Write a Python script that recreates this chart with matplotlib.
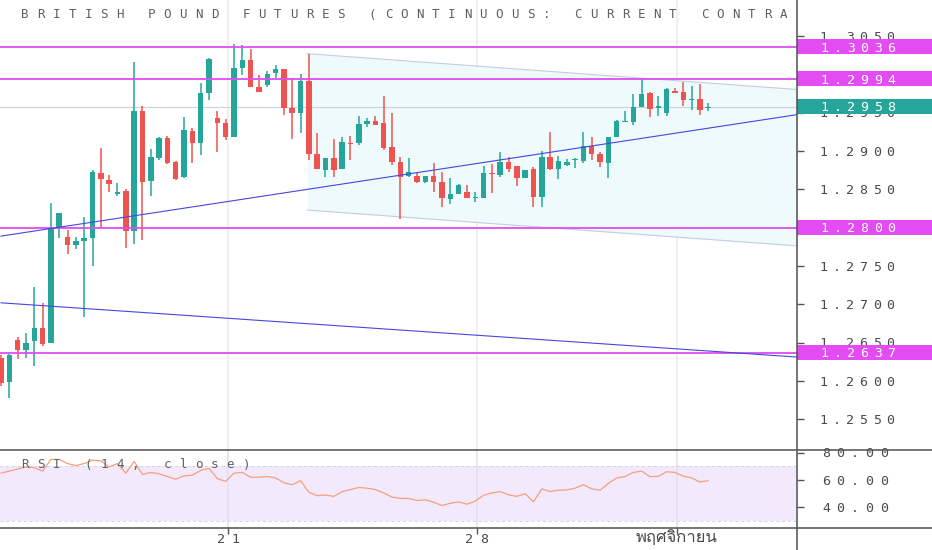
import numpy as np
import matplotlib
matplotlib.use('Agg')
from matplotlib import pyplot as plt
from matplotlib import font_manager
from matplotlib.ft2font import FT2Font
from matplotlib.transforms import IdentityTransform
from matplotlib.patches import Rectangle
from matplotlib.lines import Line2D

# 4h candles
opens = [1.2630, 1.2599, 1.2653, 1.2640, 1.2652, 1.2669, 1.2650, 1.2801, 1.2788, 1.2777,
         1.2783, 1.2787, 1.2871, 1.2862, 1.2844, 1.2848, 1.2796, 1.2952, 1.2861, 1.2891,
         1.2917, 1.2886, 1.2866, 1.2926, 1.2910, 1.2976, 1.2943, 1.2937, 1.2918, 1.3008,
         1.3019, 1.2983, 1.2986, 1.3002, 1.3007, 1.2956, 1.2950, 1.2991, 1.2896, 1.2875,
         1.2891, 1.2877, 1.2910, 1.2910, 1.2935, 1.2939, 1.2937, 1.2905, 1.2886, 1.2867,
         1.2867, 1.2860, 1.2867, 1.2860, 1.2837, 1.2844, 1.2847, 1.2839, 1.2839, 1.2871,
         1.2869, 1.2886, 1.2880, 1.2865, 1.2877, 1.2840, 1.2892, 1.2877, 1.2882, 1.2888,
         1.2887, 1.2907, 1.2896, 1.2884, 1.2918, 1.2938, 1.2938, 1.2957, 1.2976, 1.2956,
         1.2950, 1.2978, 1.2977, 1.2967, 1.2968, 1.2956]
highs = [1.2634, 1.2635, 1.2657, 1.2663, 1.2723, 1.2702, 1.2832, 1.2819, 1.2797, 1.2788,
         1.2814, 1.2875, 1.2904, 1.2869, 1.2858, 1.2850, 1.3016, 1.2959, 1.2903, 1.2918,
         1.2920, 1.2887, 1.2944, 1.2930, 1.2989, 1.3021, 1.2952, 1.2942, 1.3040, 1.3038,
         1.3033, 1.2999, 1.3004, 1.3012, 1.3007, 1.2995, 1.3000, 1.3027, 1.2923, 1.2891,
         1.2916, 1.2918, 1.2920, 1.2946, 1.2943, 1.2946, 1.2972, 1.2950, 1.2892, 1.2891,
         1.2871, 1.2867, 1.2884, 1.2873, 1.2865, 1.2857, 1.2856, 1.2847, 1.2880, 1.2883,
         1.2899, 1.2892, 1.2880, 1.2875, 1.2879, 1.2900, 1.2925, 1.2893, 1.2890, 1.2891,
         1.2925, 1.2918, 1.2899, 1.2918, 1.2940, 1.2952, 1.2974, 1.2995, 1.2977, 1.2972,
         1.2982, 1.2982, 1.2990, 1.2985, 1.2987, 1.2963]
lows = [1.2594, 1.2578, 1.2629, 1.2630, 1.2620, 1.2646, 1.2650, 1.2787, 1.2766, 1.2772,
        1.2683, 1.2750, 1.2800, 1.2847, 1.2841, 1.2773, 1.2779, 1.2784, 1.2841, 1.2888,
        1.2883, 1.2862, 1.2865, 1.2884, 1.2895, 1.2967, 1.2899, 1.2914, 1.2918, 1.2999,
        1.2983, 1.2977, 1.2983, 1.2995, 1.2947, 1.2916, 1.2923, 1.2888, 1.2877, 1.2866,
        1.2866, 1.2877, 1.2888, 1.2908, 1.2931, 1.2934, 1.2901, 1.2882, 1.2811, 1.2866,
        1.2858, 1.2858, 1.2847, 1.2827, 1.2831, 1.2844, 1.2839, 1.2833, 1.2839, 1.2845,
        1.2866, 1.2873, 1.2854, 1.2865, 1.2827, 1.2827, 1.2875, 1.2863, 1.2880, 1.2878,
        1.2884, 1.2888, 1.2879, 1.2865, 1.2918, 1.2938, 1.2934, 1.2957, 1.2944, 1.2946,
        1.2946, 1.2976, 1.2959, 1.2953, 1.2947, 1.2952]
closes = [1.2598, 1.2634, 1.2640, 1.2650, 1.2669, 1.2648, 1.2801, 1.2819, 1.2777, 1.2783,
          1.2787, 1.2873, 1.2863, 1.2857, 1.2847, 1.2796, 1.2952, 1.2860, 1.2892, 1.2917,
          1.2884, 1.2863, 1.2927, 1.2910, 1.2976, 1.3020, 1.2937, 1.2918, 1.3008, 1.3019,
          1.2983, 1.2977, 1.3000, 1.3007, 1.2956, 1.2950, 1.2991, 1.2896, 1.2877, 1.2891,
          1.2875, 1.2912, 1.2909, 1.2935, 1.2939, 1.2934, 1.2904, 1.2886, 1.2866, 1.2873,
          1.2860, 1.2867, 1.2860, 1.2839, 1.2844, 1.2856, 1.2839, 1.2840, 1.2871, 1.2870,
          1.2886, 1.2877, 1.2865, 1.2875, 1.2840, 1.2892, 1.2877, 1.2887, 1.2886, 1.2890,
          1.2907, 1.2896, 1.2886, 1.2918, 1.2939, 1.2939, 1.2957, 1.2974, 1.2955, 1.2959,
          1.2981, 1.2976, 1.2967, 1.2968, 1.2953, 1.2958]
rsi = [65.0, 66.5, 68.0, 69.5, 69.0, 66.5, 75.0, 75.0, 72.0, 70.5,
       72.0, 74.5, 74.0, 69.5, 72.0, 65.0, 73.5, 64.0, 65.5, 64.5,
       62.5, 60.5, 63.0, 63.5, 67.0, 68.5, 61.0, 59.0, 65.0, 65.5,
       62.0, 62.0, 62.5, 61.5, 58.0, 56.5, 59.5, 51.0, 48.5, 49.0,
       48.0, 51.5, 53.0, 54.5, 54.0, 53.0, 50.5, 47.5, 46.5, 46.5,
       45.0, 45.5, 43.8, 41.3, 43.0, 44.0, 42.3, 44.5, 48.8, 50.5,
       51.5, 49.2, 48.0, 50.0, 44.0, 53.5, 51.5, 52.5, 52.7, 54.0,
       56.5, 53.5, 52.5, 57.5, 61.4, 62.5, 65.5, 66.5, 62.4, 62.6,
       66.0, 65.5, 62.8, 61.5, 58.5, 59.5]

levels = [1.3036, 1.2994, 1.2800, 1.2637]
price_ticks = [1.2550, 1.2600, 1.2650, 1.2700, 1.2750, 1.2800, 1.2850,
               1.2900, 1.2950, 1.3000, 1.3050]
rsi_ticks = [40, 60, 80]
date_ticks = [27.3, 57.2, 81.25]
date_labels = ['21', '28', 'พฤศจิกายน']

# drawings (candle index, price)
trend_x = [0, 96]
trend_up = [1.2789, 1.2948]
trend_down = [1.2702, 1.2631]
chan_x = [36.8, 96]
chan_top = [1.3027, 1.2980]
chan_bot = [1.2823, 1.2776]

# the part of the title that shows left of the price scale
title = 'BRITISH POUND FUTURES (CONTINUOUS: CURRENT CONTRA'

GREEN = '#26a69a'
RED = '#ef5350'
MAG = '#e24cf2'
BLUE = '#4646e0'
W, H = 932, 550


def font_with(ch):
	for f in font_manager.fontManager.ttflist:
		try:
			if ord(ch) in FT2Font(f.fname).get_charmap():
				return f.name
		except Exception:
			continue
	return 'DejaVu Sans'


fig = plt.figure(figsize=(W / 100, H / 100), dpi=100)
ax = fig.add_axes([0, 100 / H, 797 / W, 450 / H])
ax2 = fig.add_axes([0, 22 / H, 797 / W, 78 / H])


def spaced(x, y, s, pitch, size=9.5, color='#4a4a4a', zorder=3):
	'''Write s one character at a time, x/y = centre of first char, y from top.'''
	base = H - (y + 0.36 * size * 100 / 72)
	for k, ch in enumerate(s):
		fig.text(x + k * pitch, base, ch, transform=IdentityTransform(),
			ha='center', va='baseline', family='DejaVu Sans Mono',
			fontsize=size, color=color, zorder=zorder)


idx = np.arange(len(closes))
o = np.array(opens)
c = np.array(closes)
colors = np.where(c >= o, GREEN, RED)

ax.set_xlim(-0.12, 95.67)
ax.set_ylim(1.2510, 1.3097)
ax2.set_xlim(-0.12, 95.67)
ax2.set_ylim(24.9, 81.9)

for t in date_ticks:
	ax.axvline(t, color='#eef0f4', lw=1.5, zorder=0)
	ax2.axvline(t, color='#e4e0ee', lw=1.2, zorder=1)

# channel
ax.fill_between(chan_x, chan_bot, chan_top, color='#eefafc', lw=0, zorder=1)
ax.plot(chan_x, chan_top, color='#c3cde0', lw=0.8, zorder=2)
ax.plot(chan_x, chan_bot, color='#c3cde0', lw=0.8, zorder=2)

ax.axhline(closes[-1], color='#cdd2d6', lw=0.8, zorder=2)

# candles
ax.vlines(idx, lows, highs, colors=colors, lw=1.1, zorder=4)
body_lo = np.minimum(o, c)
body_h = np.maximum(np.abs(c - o), 0.00012)
ax.bar(idx, body_h, bottom=body_lo, width=0.66, color=colors, lw=0, zorder=5)

for lvl in levels:
	ax.axhline(lvl, color=MAG, lw=1.3, zorder=6)
ax.plot(trend_x, trend_up, color=BLUE, lw=0.8, zorder=6)
ax.plot(trend_x, trend_down, color=BLUE, lw=0.8, zorder=6)

ax.set_xticks([])
ax.set_yticks(price_ticks)
ax.tick_params(axis='y', left=False, right=True, labelleft=False,
	labelright=False, length=5, width=1, color='#555555')
for s in list(ax.spines.values()) + list(ax2.spines.values()):
	s.set_visible(False)

# RSI panel
ax2.axhspan(30, 70, color='#f3e9fd', lw=0, zorder=0)
ax2.axhline(70, color='#d9d0ea', lw=0.7, ls=(0, (3, 3)), zorder=1)
ax2.axhline(30, color='#d9d0ea', lw=0.7, ls=(0, (3, 3)), zorder=1)
ax2.plot(idx, rsi, color='#f4a07c', lw=0.9, zorder=3)
ax2.set_yticks(rsi_ticks)
ax2.set_xticks(date_ticks)
ax2.tick_params(axis='y', left=False, right=True, labelleft=False,
	labelright=False, length=5, width=1, color='#555555')
ax2.tick_params(axis='x', bottom=True, labelbottom=False, length=4,
	width=1, color='#555555')

# texts
spaced(25, 14, title, 15.8, size=9, color='#5f5f5f')
spaced(25, 464, 'RSI (14, close)', 15.8, size=9, color='#5f5f5f')

box_vals = levels + [closes[-1]]
for v in price_ticks:
	# labels sitting right under a price box are hidden in the original
	if min(abs(v - b) for b in box_vals) < 0.0007:
		continue
	y = H - ax.transData.transform((0, v))[1]
	spaced(823, y, '%.4f' % v, 13.5)
for v in rsi_ticks:
	y = H - ax2.transData.transform((0, v))[1]
	spaced(826, y, '%.2f' % v, 14.5)

boxes = [(v, MAG) for v in levels] + [(closes[-1], GREEN)]
for v, col in boxes:
	y = H - ax.transData.transform((0, v))[1]
	fig.add_artist(Rectangle((797, H - y - 7.5), W - 797, 15,
		transform=IdentityTransform(), color=col, lw=0, zorder=4))
	spaced(824, y, '%.4f' % v, 13.5, color='white', zorder=5)

thai = font_with('พ')
for t, lab in zip(date_ticks, date_labels):
	x = ax2.transData.transform((t, 0))[0]
	if lab.isdigit():
		spaced(x - 7.5 * (len(lab) - 1), 538, lab, 15)
	else:
		fig.text(x, H - 538, lab, transform=IdentityTransform(), ha='center',
			va='center', family=[thai, 'DejaVu Sans'], fontsize=12,
			color='#4a4a4a')

for y in (450, 528):
	fig.add_artist(Line2D([0, W], [H - y, H - y], transform=IdentityTransform(),
		color='#505050', lw=1.1, zorder=6))
fig.add_artist(Line2D([797, 797], [0, H], transform=IdentityTransform(),
	color='#505050', lw=1.1, zorder=6))

fig.savefig('out.png', dpi=100)
